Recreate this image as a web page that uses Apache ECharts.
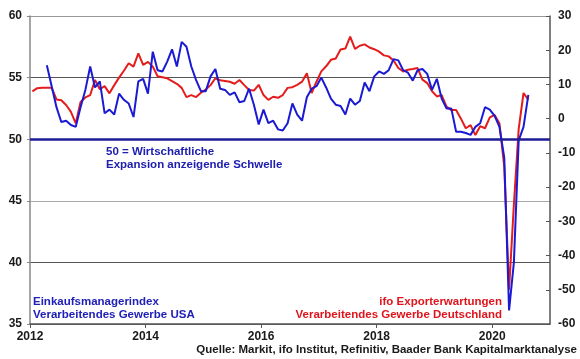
<!DOCTYPE html>
<html><head><meta charset="utf-8">
<script src="https://cdn.jsdelivr.net/npm/echarts@6/dist/echarts.min.js"></script>
<style>html,body{margin:0;padding:0;background:#fff}#c{width:580px;height:359px}</style>
</head><body><div id="c"></div>
<script>
// ---- data ----
const startYear = 2012;
const redStartMonth = 0;   // Jan 2012
const blueStartMonth = 3;  // Apr 2012
// ifo Exporterwartungen (right axis), monthly from Jan 2012
const redValues = [
  8.0, 8.9, 9.0, 9.0, 9.0, 5.6, 5.4, 4.0, 2.0, -1.4, 4.9, 6.2,
  6.9, 11.3, 8.6, 9.5, 7.4, 9.8, 12.0, 14.0, 16.2, 15.2, 19.1, 15.7,
  16.6, 15.2, 12.4, 12.1, 11.8, 11.0, 10.2, 9.0, 6.3, 6.9, 6.3, 7.6,
  8.5, 9.8, 11.8, 11.2, 11.0, 10.8, 10.2, 11.3, 9.8, 8.4, 8.2, 9.9,
  6.9, 5.5, 6.4, 6.1, 6.9, 9.0, 9.2, 9.9, 10.8, 13.3, 7.5, 10.8,
  13.8, 15.3, 17.2, 17.6, 20.2, 20.5, 24.0, 20.4, 21.3, 21.7, 20.8, 20.3,
  19.6, 18.5, 18.2, 17.0, 14.8, 13.8, 14.3, 14.5, 14.8, 11.4, 10.4, 8.0,
  6.5, 6.9, 3.5, 2.5, 2.5, 0.0, -2.8, -1.9, -4.8, -2.2, -2.8, 0.4,
  1.1, -1.4, -14.0, -50.0, -25.0, -3.0, 7.5, 5.5
];
// Einkaufsmanagerindex USA (left axis), monthly from Apr 2012
const blueValues = [
  56.0, 54.3, 52.6, 51.4, 51.5, 51.15, 51.0, 52.6, 54.0,
  55.9, 54.2, 54.7, 52.1, 52.4, 52.0, 53.7, 53.2, 52.9, 51.8, 54.7, 54.9,
  53.7, 57.1, 55.6, 55.5, 56.3, 57.3, 55.9, 57.9, 57.5, 55.9, 54.8, 53.9,
  53.9, 55.1, 55.7, 54.1, 54.0, 53.6, 53.8, 53.0, 53.1, 54.1, 52.8, 51.2,
  52.4, 51.3, 51.5, 50.8, 50.7, 51.3, 52.9, 52.0, 51.5, 53.4, 54.1, 54.3,
  55.0, 54.2, 53.3, 52.8, 52.7, 52.0, 53.3, 52.8, 53.1, 54.6, 53.9, 55.1,
  55.5, 55.3, 55.6, 56.5, 56.4, 55.6, 55.4, 54.75, 55.6, 55.7, 55.3, 54.0,
  54.9, 53.3, 52.5, 52.5, 50.6, 50.6, 50.5, 50.35, 51.0, 51.3, 52.6, 52.4,
  51.9, 51.0, 48.5, 36.1, 40.0, 49.9, 51.0, 53.6
];
const xTickLabels = ['2012', '2014', '2016', '2018', '2020'];
const leftTicks = [35, 40, 45, 50, 55, 60];
const rightTicks = [-60, -50, -40, -30, -20, -10, 0, 10, 20, 30];
const threshold = 50;
const thresholdText = '50 = Wirtschaftliche\nExpansion anzeigende Schwelle';
const blueName = 'Einkaufsmanagerindex\nVerarbeitendes Gewerbe USA';
const redName = 'ifo Exporterwartungen\nVerarbeitendes Gewerbe Deutschland';
const sourceText = 'Quelle: Markit, ifo Institut, Refinitiv, Baader Bank Kapitalmarktanalyse';

// ---- build ----
const toX = (start, i) => startYear + (start + i + 0.5) / 12;
const redData = redValues.map((v, i) => [toX(redStartMonth, i), v]);
const blueData = blueValues.map((v, i) => [toX(blueStartMonth, i), v]);

const FF = '"Liberation Sans", Arial, sans-serif';
const chart = echarts.init(document.getElementById('c'), null, {renderer: 'canvas'});
chart.setOption({
  animation: false,
  backgroundColor: '#fff',
  grid: {left: 30, right: 30, top: 16, bottom: 35, containLabel: false},
  xAxis: {
    type: 'value', min: 2012, max: 2021, interval: 2,
    axisLine: {show: true, onZero: false, lineStyle: {color: '#555', width: 1.5}},
    axisTick: {show: true, length: 4, lineStyle: {color: '#555'}},
    splitLine: {show: false},
    axisLabel: {
      showMaxLabel: false, margin: 7,
      color: '#1a1a1a', fontSize: 12, fontWeight: 'bold', fontFamily: FF,
      formatter: v => xTickLabels.includes(String(v)) ? String(v) : ''
    }
  },
  yAxis: [
    {
      type: 'value', min: leftTicks[0], max: leftTicks[leftTicks.length - 1], interval: 5,
      position: 'left',
      axisLine: {show: true, onZero: false, lineStyle: {color: '#888', width: 1.5}},
      axisTick: {show: true, length: 3, lineStyle: {color: '#888'}},
      axisLabel: {margin: 8, color: '#1a1a1a', fontSize: 12, fontWeight: 'bold', fontFamily: FF},
      splitLine: {show: true, lineStyle: {width: 1, color: ['#666', '#555', '#aaa', 'rgba(0,0,0,0)', '#555', '#999']}}
    },
    {
      type: 'value', min: rightTicks[0], max: rightTicks[rightTicks.length - 1], interval: 10,
      position: 'right',
      axisLine: {show: true, onZero: false, lineStyle: {color: '#555', width: 1.5}},
      axisTick: {show: true, inside: true, length: 4, lineStyle: {color: '#555'}},
      axisLabel: {margin: 8, color: '#1a1a1a', fontSize: 12, fontWeight: 'bold', fontFamily: FF},
      splitLine: {show: false}
    }
  ],
  series: [
    {
      name: 'ifo', type: 'line', yAxisIndex: 1, data: redData,
      showSymbol: false, symbol: 'none',
      lineStyle: {color: '#e41c1c', width: 2}, z: 3
    },
    {
      name: 'PMI', type: 'line', yAxisIndex: 0, data: blueData,
      showSymbol: false, symbol: 'none',
      lineStyle: {color: '#1a1ad4', width: 2}, z: 4,
      markLine: {
        silent: true, symbol: ['none', 'none'], label: {show: false},
        lineStyle: {color: '#1c1c96', width: 2.5, type: 'solid'},
        data: [{yAxis: threshold}]
      }
    }
  ],
  graphic: [
    {type: 'text', x: 106, y: 146, style: {text: thresholdText, fill: '#2020b0', fontSize: 11.5, fontWeight: 'bold', fontFamily: FF, lineHeight: 12.5, align: 'left', verticalAlign: 'top'}},
    {type: 'text', x: 33, y: 295.5, style: {text: blueName, fill: '#2020b8', fontSize: 11.5, fontWeight: 'bold', fontFamily: FF, lineHeight: 12.6, align: 'left', verticalAlign: 'top'}},
    {type: 'text', x: 502, y: 295.5, style: {text: redName, fill: '#e0141c', fontSize: 11.5, fontWeight: 'bold', fontFamily: FF, lineHeight: 12.6, align: 'right', verticalAlign: 'top'}},
    {type: 'text', x: 577, y: 344, style: {text: sourceText, fill: '#1a1a1a', fontSize: 11.5, fontWeight: 'bold', fontFamily: FF, align: 'right', verticalAlign: 'top'}}
  ]
});
</script>
</body></html>
